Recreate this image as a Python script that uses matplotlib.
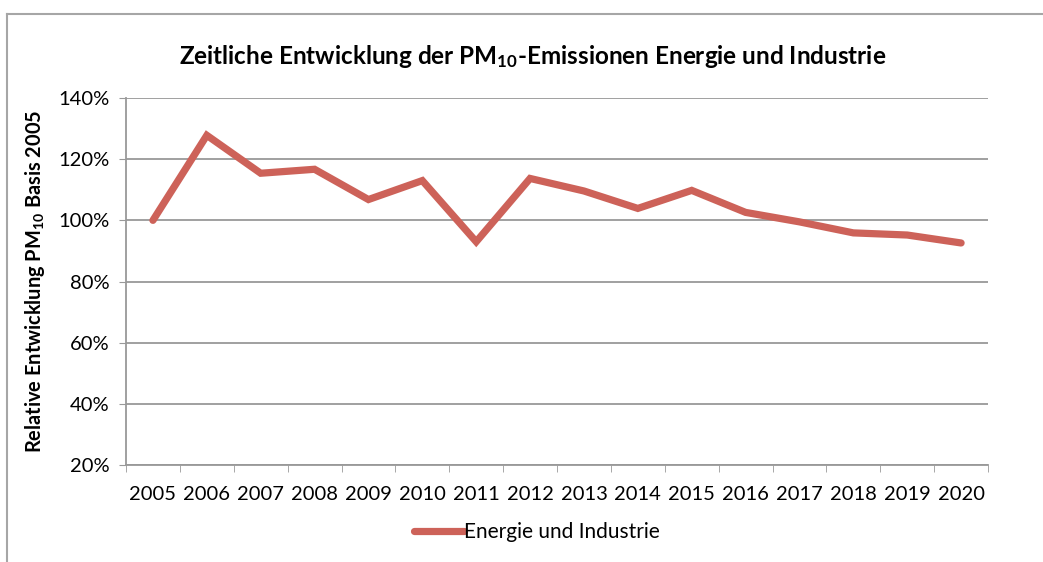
import matplotlib.pyplot as plt
from matplotlib.lines import Line2D
import numpy as np

years = ["2005", "2006", "2007", "2008", "2009", "2010", "2011", "2012",
         "2013", "2014", "2015", "2016", "2017", "2018", "2019", "2020"]
werte = [100, 127.8, 115.4, 116.7, 106.8, 113, 93, 113.7,
         109.6, 103.9, 109.8, 102.6, 99.5, 95.9, 95.2, 92.6]
y_ticks = [20, 40, 60, 80, 100, 120, 140]

plt.rcParams['font.family'] = ['Lato', 'DejaVu Sans']
plt.rcParams['mathtext.default'] = 'regular'

farbe = '#CD6259'
grau = '#999999'

fig = plt.figure(figsize=(10.43, 5.62), dpi=100)
ax = fig.add_axes([0.1208, 0.1726, 0.8265, 0.653])

x = np.arange(len(years))
ax.plot(x, werte, color=farbe, lw=5.2, solid_joinstyle='miter',
        solid_capstyle='round', label='Energie und Industrie')

ax.set_xlim(-0.5, len(years) - 0.5)
ax.set_ylim(20, 140)
ax.set_yticks(y_ticks)
ax.set_yticklabels([f"{v}%" for v in y_ticks])
ax.set_xticks(x)
ax.set_xticklabels(years)
ax.set_xticks(np.arange(-0.5, len(years)), minor=True)
ax.tick_params(axis='x', which='major', length=0, pad=15, labelsize=14.5)
ax.tick_params(axis='x', which='minor', length=5, color=grau)
ax.tick_params(axis='y', length=5, color=grau, labelsize=14.5, pad=7)

ax.grid(axis='y', color=grau, lw=1.3)
ax.set_axisbelow(True)
for s in ['top', 'right']:
    ax.spines[s].set_visible(False)
for s in ['left', 'bottom']:
    ax.spines[s].set_color(grau)
    ax.spines[s].set_linewidth(1.3)

ax.set_ylabel('Relative Entwicklung PM$_{10}$ Basis 2005', fontsize=14.4,
              fontweight='bold', labelpad=8)
fig.text(0.511, 0.9, 'Zeitliche Entwicklung der PM$_{10}$-Emissionen Energie und Industrie',
         ha='center', va='center', fontsize=17.5, fontweight='bold')

leg = fig.legend(handles=[Line2D([], [], color=farbe, lw=5.2, solid_capstyle='round')],
                 labels=['Energie und Industrie'], loc='center',
                 bbox_to_anchor=(0.515, 0.053), frameon=False, fontsize=15,
                 handlelength=2.4, handletextpad=0.0)

# Rahmen
fig.add_artist(Line2D([0.0067, 1.0], [0.975, 0.975], color='#a6a6a6', lw=1.5,
                      transform=fig.transFigure))
fig.add_artist(Line2D([0.0067, 0.0067], [0.0, 0.975], color='#a6a6a6', lw=1.5,
                      transform=fig.transFigure))

fig.savefig('out.png', dpi=100)
